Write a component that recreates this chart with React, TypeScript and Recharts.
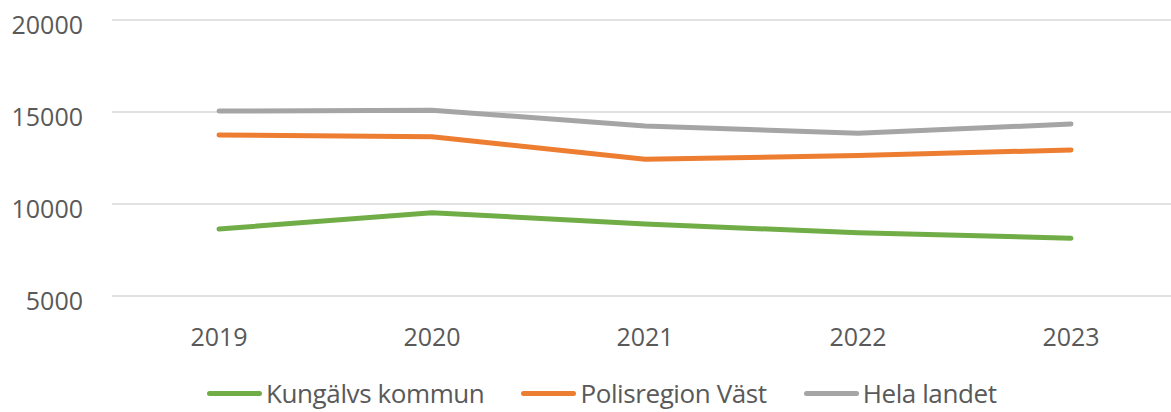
import { LineChart, Line, XAxis, YAxis, CartesianGrid, Legend } from "recharts";

const years = ["2019", "2020", "2021", "2022", "2023"];
const kungalv = [8640, 9530, 8910, 8440, 8140];
const polisregion = [13750, 13660, 12430, 12630, 12940];
const helaLandet = [15050, 15100, 14240, 13840, 14350];
const yTicks = [5000, 10000, 15000, 20000];

const series = [
  { key: "kungalv", name: "Kungälvs kommun", color: "#70ad47" },
  { key: "polis", name: "Polisregion Väst", color: "#ed7d31" },
  { key: "hela", name: "Hela landet", color: "#a5a5a5" },
];

const data = years.map((year, i) => ({
  year,
  kungalv: kungalv[i],
  polis: polisregion[i],
  hela: helaLandet[i],
}));

const font = "'Open Sans', sans-serif";
const textColor = "#595959";

const YTick = ({ x, y, payload }: any) => (
  <text x={x} y={y + 4} textAnchor="end" dominantBaseline="central"
    fill={textColor} fontSize={25} fontFamily={font}>
    {payload.value}
  </text>
);

const XTick = ({ x, y, payload }: any) => (
  <text x={x} y={y + 32} textAnchor="middle" dominantBaseline="central"
    fill={textColor} fontSize={25} fontFamily={font}>
    {payload.value}
  </text>
);

const LegendBox = () => (
  <div style={{
    width: 1178, height: 56, boxSizing: "border-box", paddingTop: 22, paddingLeft: 207,
    display: "flex", alignItems: "flex-start", gap: 37,
  }}>
    {series.map((s) => (
      <div key={s.key} style={{ display: "flex", alignItems: "center", height: 30 }}>
        <span style={{ display: "inline-block", width: 55, height: 5, borderRadius: 3, background: s.color, marginRight: 4 }} />
        <span style={{ fontFamily: font, fontSize: 26, color: textColor, letterSpacing: -0.4, lineHeight: "30px" }}>
          {s.name}
        </span>
      </div>
    ))}
  </div>
);

export default function App() {
  return (
    <div style={{ position: "absolute", left: 0, top: 0, width: 1171, height: 412, overflow: "hidden", background: "#fff" }}>
      <LineChart width={1178} height={412} data={data} margin={{ top: 20, right: 0, left: 0, bottom: 0 }}>
        <CartesianGrid vertical={false} stroke="#d9d9d9" strokeWidth={1.5} />
        <XAxis dataKey="year" axisLine={false} tickLine={false} height={60}
          padding={{ left: 107, right: 107 }} tick={<XTick />} interval={0} />
        <YAxis domain={[5000, 20000]} ticks={yTicks} axisLine={false} tickLine={false}
          width={112} tick={<YTick />} tickSize={6} tickMargin={23} />
        <Legend verticalAlign="bottom" content={<LegendBox />} wrapperStyle={{ left: 0, width: 1178 }} />
        {series.map((s) => (
          <Line key={s.key} dataKey={s.key} name={s.name} stroke={s.color} strokeWidth={5}
            strokeLinecap="round" dot={false} activeDot={false} type="linear" isAnimationActive={false} />
        ))}
      </LineChart>
    </div>
  );
}
